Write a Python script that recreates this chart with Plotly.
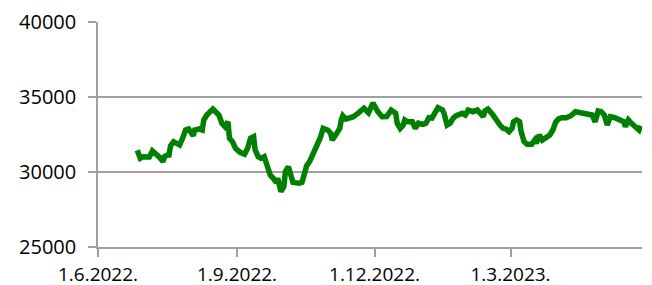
import plotly.graph_objects as go

dates = [
    "2022-06-27", "2022-06-29", "2022-07-01", "2022-07-03", "2022-07-05", "2022-07-07",
    "2022-07-10", "2022-07-12", "2022-07-14", "2022-07-15", "2022-07-17", "2022-07-18",
    "2022-07-19", "2022-07-21", "2022-07-23", "2022-07-25", "2022-07-27", "2022-07-29",
    "2022-07-31", "2022-08-03", "2022-08-04", "2022-08-07", "2022-08-09", "2022-08-10",
    "2022-08-12", "2022-08-15", "2022-08-16", "2022-08-17", "2022-08-20", "2022-08-22",
    "2022-08-24", "2022-08-26", "2022-08-27", "2022-08-29", "2022-08-31", "2022-09-03",
    "2022-09-06", "2022-09-08", "2022-09-10", "2022-09-12", "2022-09-13", "2022-09-15",
    "2022-09-17", "2022-09-19", "2022-09-21", "2022-09-23", "2022-09-25", "2022-09-27",
    "2022-09-28", "2022-09-30", "2022-10-02", "2022-10-03", "2022-10-05", "2022-10-07",
    "2022-10-08", "2022-10-12", "2022-10-14", "2022-10-16", "2022-10-17", "2022-10-19",
    "2022-10-21", "2022-10-23", "2022-10-25", "2022-10-26", "2022-10-28", "2022-10-31",
    "2022-11-02", "2022-11-03", "2022-11-06", "2022-11-08", "2022-11-09", "2022-11-10",
    "2022-11-12", "2022-11-15", "2022-11-17", "2022-11-20", "2022-11-22", "2022-11-24",
    "2022-11-27", "2022-11-30", "2022-12-03", "2022-12-06", "2022-12-09", "2022-12-11",
    "2022-12-12", "2022-12-15", "2022-12-16", "2022-12-18", "2022-12-20", "2022-12-21",
    "2022-12-23", "2022-12-26", "2022-12-28", "2022-12-30", "2023-01-02", "2023-01-04",
    "2023-01-06", "2023-01-08", "2023-01-10", "2023-01-12", "2023-01-15", "2023-01-16",
    "2023-01-18", "2023-01-20", "2023-01-22", "2023-01-24", "2023-01-28", "2023-01-30",
    "2023-02-01", "2023-02-04", "2023-02-07", "2023-02-09", "2023-02-11", "2023-02-12",
    "2023-02-14", "2023-02-17", "2023-02-20", "2023-02-22", "2023-02-24", "2023-02-26",
    "2023-02-28", "2023-03-02", "2023-03-03", "2023-03-05", "2023-03-07", "2023-03-08",
    "2023-03-10", "2023-03-12", "2023-03-15", "2023-03-17", "2023-03-18", "2023-03-20",
    "2023-03-22", "2023-03-25", "2023-03-27", "2023-03-29", "2023-03-31", "2023-04-02",
    "2023-04-04", "2023-04-07", "2023-04-10", "2023-04-13", "2023-04-16", "2023-04-19",
    "2023-04-21", "2023-04-24", "2023-04-26", "2023-04-28", "2023-04-30", "2023-05-02",
    "2023-05-04", "2023-05-06", "2023-05-09", "2023-05-12", "2023-05-15", "2023-05-16",
    "2023-05-18", "2023-05-20", "2023-05-22", "2023-05-25", "2023-05-26",
]

values = [
    31450, 30910, 31020, 31020, 31000, 31400,
    31180, 30950, 30690, 31020, 31130, 31130,
    31750, 32020, 31910, 31800, 32250, 32800,
    32870, 32420, 32800, 32870, 32800, 33470,
    33800, 34020, 34200, 34100, 33800, 33250,
    33020, 33350, 32250, 32020, 31580, 31310,
    31180, 31580, 32250, 32350, 31470, 31020,
    30910, 31020, 30350, 29800, 29580, 29310,
    29580, 28690, 29020, 30020, 30350, 29800,
    29310, 29250, 29310, 30020, 30400, 30690,
    31130, 31470, 31850, 32250, 32910, 32800,
    32580, 32130, 32580, 32910, 33470, 33750,
    33530, 33620, 33690, 33910, 34130, 34250,
    33950, 34600, 34050, 33690, 33700, 33950,
    34130, 33910, 33250, 32910, 33130, 33470,
    33350, 33350, 32910, 33250, 33180, 33250,
    33620, 33600, 33910, 34290, 34130, 33910,
    33130, 33250, 33580, 33750, 33910, 33800,
    34130, 34020, 34130, 33910, 33690, 34070,
    34200, 33850, 33350, 33130, 32910, 32870,
    32690, 32910, 33350, 33470, 33350, 32690,
    32020, 31850, 31850, 32130, 31910, 32470,
    32130, 32350, 32470, 32800, 33350, 33550,
    33620, 33620, 33750, 34020, 33980, 33910,
    33850, 33800, 33350, 34070, 34020, 33800,
    33130, 33690, 33620, 33470, 33350, 33020,
    33470, 33250, 33090, 32800, 33090,
]

x_range = ["2022-06-01", "2023-05-27"]
x_ticks = ["2022-06-01", "2022-09-01", "2022-12-01", "2023-03-01"]
x_labels = ["1.6.2022.", "1.9.2022.", "1.12.2022.", "1.3.2023."]
y_ticks = [25000, 30000, 35000, 40000]
y_labels = ["25000", "30000", "35000", "40000"]

fig = go.Figure()
fig.add_trace(go.Scatter(
    x=dates, y=values, mode="lines",
    line=dict(color="#008000", width=5.5),
    showlegend=False, hoverinfo="skip",
))

# the page body adds an 8px offset; margins compensate for it
fig.update_layout(
    width=652, height=285,
    margin=dict(l=90, r=18, t=14, b=46, autoexpand=False),
    paper_bgcolor="white", plot_bgcolor="white",
    font=dict(family="Open Sans", color="#000000"),
)
fig.update_xaxes(
    type="date", range=x_range,
    tickvals=x_ticks, ticktext=x_labels,
    showgrid=False, showline=True, linecolor="#a0a0a0", linewidth=1.5,
    ticks="outside", ticklen=8, tickcolor="#a0a0a0", tickwidth=1.5,
    tickfont=dict(size=19, family="Open Sans", color="#000000"),
    ticklabelstandoff=1,
    zeroline=False, automargin=False,
)
fig.update_yaxes(
    range=[25000, 40000], tickvals=y_ticks, ticktext=y_labels,
    showgrid=True, gridcolor="#a0a0a0", gridwidth=1.5,
    showline=True, linecolor="#a0a0a0", linewidth=1.5,
    ticks="outside", ticklen=8, tickcolor="#a0a0a0", tickwidth=1.5,
    tickfont=dict(size=20, family="Open Sans", color="#000000"),
    ticklabelstandoff=8,
    zeroline=False, automargin=False,
)

fig.write_html("out.html")
